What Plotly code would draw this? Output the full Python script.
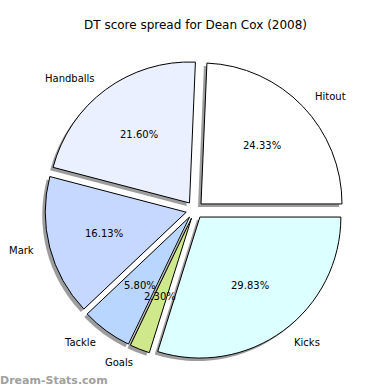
import math
import plotly.graph_objects as go

title = "DT score spread for Dean Cox (2008)"
categories = ["Hitout", "Handballs", "Mark", "Tackle", "Goals", "Kicks"]
values = [24.33, 21.60, 16.13, 5.80, 2.30, 29.83]
colors = ["#ffffff", "#eaf0ff", "#c6d8ff", "#b8d6ff", "#d0e88c", "#dcffff"]
watermark = "Dream-Stats.com"

W = H = 390
R_PX = 141.0
PULL = 0.062
CX_PX, CY_PX = 194.7, 210.0
half = R_PX * (1 + PULL)
total = sum(values)
# plotly (counterclockwise): first slice ends at `rotation` (clock angle);
# here the first slice begins at 3 o'clock going counterclockwise.
ROT = 90 - 360 * values[0] / total


def dom(cx, cy):
    return dict(x=[(cx - half) / W, (cx + half) / W],
                y=[1 - (cy + half) / H, 1 - (cy - half) / H])


fig = go.Figure()
# drop shadow
fig.add_trace(go.Pie(
    values=values, labels=categories, sort=False, direction="counterclockwise",
    rotation=ROT, pull=[PULL] * len(values), textinfo="none", hoverinfo="skip",
    marker=dict(colors=["rgba(60,60,60,0.5)"] * len(values), line=dict(width=0)),
    domain=dom(CX_PX - 3, CY_PX + 3), showlegend=False))
fig.add_trace(go.Pie(
    values=values, labels=categories, sort=False, direction="counterclockwise",
    rotation=ROT, pull=[PULL] * len(values), textinfo="none",
    marker=dict(colors=colors, line=dict(color="black", width=1)),
    domain=dom(CX_PX, CY_PX), showlegend=False))

cx, cy = CX_PX / W, 1 - CY_PX / H
R = R_PX / W
annotations = []
start = 0.0
for cat, v in zip(categories, values):
    frac = v / total
    mid = math.radians((start + frac / 2) * 360)
    start += frac
    c, s = math.cos(mid), math.sin(mid)
    ox, oy = cx + PULL * R * c, cy + PULL * R * s
    annotations.append(dict(
        x=ox + 1.1 * R * c, y=oy + 1.1 * R * s, xref="paper", yref="paper",
        text=cat, showarrow=False, xanchor="left" if c > 0 else "right",
        yanchor="middle", font=dict(size=10, color="black")))
    annotations.append(dict(
        x=ox + 0.6 * R * c, y=oy + 0.6 * R * s, xref="paper", yref="paper",
        text=f"{frac * 100:.2f}%", showarrow=False, xanchor="center",
        yanchor="middle", font=dict(size=10, color="black")))

annotations.append(dict(
    x=0.5, y=1 - 25 / H, xref="paper", yref="paper", text=title,
    showarrow=False, xanchor="center", yanchor="middle",
    font=dict(size=12, color="black")))
annotations.append(dict(
    x=-2 / W, y=1 - 380 / H, xref="paper", yref="paper", text=f"<b>{watermark}</b>",
    showarrow=False, xanchor="left", yanchor="middle",
    font=dict(size=11, color="#a0a0a0")))

fig.update_layout(
    width=W, height=H, margin=dict(l=0, r=0, t=0, b=0),
    paper_bgcolor="white", plot_bgcolor="white",
    font=dict(family="DejaVu Sans"), annotations=annotations)
fig.write_html("out.html", post_script="document.body.style.margin='0';",
               config={"displayModeBar": False})
